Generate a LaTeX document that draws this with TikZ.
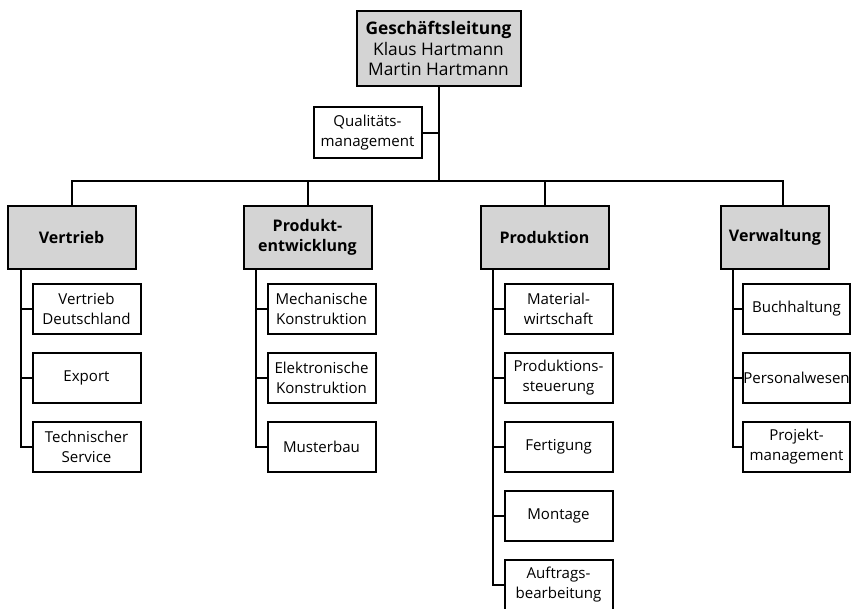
\documentclass[tikz,border=0pt]{standalone}
\usepackage{fontspec}
\setmainfont{Open Sans}
\usetikzlibrary{positioning,calc}
\definecolor{boxgray}{RGB}{212,212,212}
\tikzset{
  abt/.style={draw,line width=1.5pt,fill=boxgray,align=center,
    minimum width=96pt,minimum height=47pt,inner sep=1pt,
    font=\fontsize{12}{15}\selectfont\bfseries},
  sub/.style={draw,line width=1.5pt,fill=white,align=center,
    minimum width=81pt,minimum height=37.5pt,inner sep=0pt,
    font=\fontsize{11.3}{15}\selectfont},
  link/.style={line width=1.5pt}
}

\begin{document}
\begin{tikzpicture}[x=0.75pt,y=-0.75pt]
    \useasboundingbox (0,0) rectangle (853,608);

    % Leitung und Stabsstelle
    \node[abt,minimum width=123pt,minimum height=56pt,
      font=\fontsize{13}{15.5}\selectfont] (gl) at (438.5,48.5)
      {\textbf{Geschäftsleitung}\\Klaus Hartmann\\Martin Hartmann};
    \node[sub,minimum height=38pt] (qm) at (367.5,132.5) {Qualitäts-\\management};
    \coordinate (bus) at (438.5,181);

    % Abteilungen
    \node[abt] (vt) at (71.5,237.5) {Vertrieb};
    \node[abt] (pe) at (307.5,237.5) {Produkt-\\entwicklung};
    \node[abt] (pr) at (544.5,237.5) {Produktion};
    \node[abt,minimum width=81pt] (vw) at (775,237.5) {Verwaltung};

    \draw[link] (gl.south) -- (bus);
    \draw[link] (qm.east) -- (qm.east -| gl.south);
    \draw[link] (vt.north) |- (bus) -| ([xshift=6pt]vw.north);
    \draw[link] (pe.north) -- (pe.north |- bus);
    \draw[link] (pr.north) -- (pr.north |- bus);

    % Vertrieb
    \foreach \txt [count=\i] in {{Vertrieb\\Deutschland},{Export},{Technischer\\Service}} {
        \node[sub] (vt\i) at (86.5,240+69*\i) {\txt};
        \draw[link] ([xshift=11pt]vt.south west) |- (vt\i.west);
    }

    % Produktentwicklung
    \foreach \txt [count=\i] in {{Mechanische\\Konstruktion},{Elektronische\\Konstruktion},{Musterbau}} {
        \node[sub] (pe\i) at (321.5,240+69*\i) {\txt};
        \draw[link] ([xshift=9.75pt]pe.south west) |- (pe\i.west);
    }

    % Produktion
    \foreach \txt [count=\i] in {{Material-\\wirtschaft},{Produktions-\\steuerung},{Fertigung},{Montage},{Auftrags-\\bearbeitung}} {
        \node[sub] (pr\i) at (558.5,240+69*\i) {\txt};
        \draw[link] ([xshift=9.75pt]pr.south west) |- (pr\i.west);
    }

    % Verwaltung
    \foreach \txt [count=\i] in {{Buchhaltung},{Personalwesen},{Projekt-\\management}} {
        \node[sub,minimum width=80pt] (vw\i) at (796.5,240+69*\i) {\txt};
        \draw[link] ([xshift=9.75pt]vw.south west) |- (vw\i.west);
    }
\end{tikzpicture}
\end{document}
